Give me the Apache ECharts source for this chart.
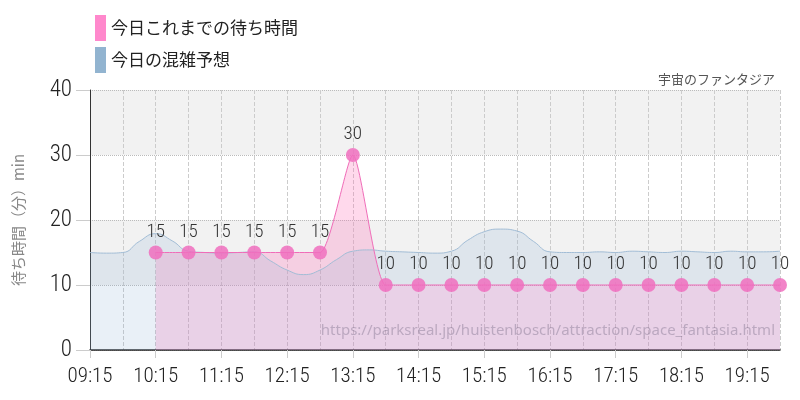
<!DOCTYPE html>
<html>
<head>
<meta charset="utf-8">
<script src="https://cdn.jsdelivr.net/npm/echarts@6/dist/echarts.min.js"></script>
<style>html,body{margin:0;padding:0;background:#fff}#c{width:800px;height:400px}</style>
</head>
<body>
<div id="c"></div>
<script>
// 30-minute categories (labels / pink series)
const categories = ['09:15','09:45','10:15','10:45','11:15','11:45','12:15','12:45','13:15','13:45','14:15','14:45','15:15','15:45','16:15','16:45','17:15','17:45','18:15','18:45','19:15','19:45'];
// today's actual wait (min)
const actualWait = [null,null,15,15,15,15,15,15,30,10,10,10,10,10,10,10,10,10,10,10,10,10];
// 15-minute categories (forecast series)
const forecastTimes = ['09:15','09:30','09:45','10:00','10:15','10:30','10:45','11:00','11:15','11:30','11:45','12:00','12:15','12:30','12:45','13:00','13:15','13:30','13:45','14:00','14:15','14:30','14:45','15:00','15:15','15:30','15:45','16:00','16:15','16:30','16:45','17:00','17:15','17:30','17:45','18:00','18:15','18:30','18:45','19:00','19:15','19:30','19:45'];
const forecast = [15,14.9,15,16.7,17.9,16.8,15.2,15,14.9,15,15.1,13.7,12.3,11.6,12.3,13.9,15.2,15.4,15.2,15.1,15,14.9,15.2,16.9,18.2,18.6,18.3,16.7,15.1,15,15,15.1,15,15.2,15.1,15,15.2,15.1,15,15.2,15.1,15.1,15.2];
const yTicks = [0,10,20,30,40];

const numFont = "'Roboto Condensed','Liberation Sans Narrow','DejaVu Sans Condensed','Roboto',sans-serif";
const jpFont = "'Noto Sans CJK JP','Noto Sans',sans-serif";
const nameActual = '今日これまでの待ち時間';
const nameForecast = '今日の混雑予想';

const chart = echarts.init(document.getElementById('c'));
chart.setOption({
  backgroundColor: '#fff',
  animation: false,
  title: {
    text: '宇宙のファンタジア',
    right: 20, top: 68,
    textStyle: {fontFamily: jpFont, fontSize: 13, fontWeight: 'normal', color: '#555'}
  },
  legend: {
    orient: 'vertical', left: 95, top: 15, itemGap: 6, padding: 0,
    itemWidth: 11, itemHeight: 26,
    textStyle: {fontFamily: jpFont, fontSize: 17, color: '#222'},
    data: [
      {name: nameActual, icon: 'rect', itemStyle: {color: '#ff88cc', opacity: 1}},
      {name: nameForecast, icon: 'rect', itemStyle: {color: '#92b4d0', opacity: 1}}
    ]
  },
  grid: {left: 90, right: 20, top: 90, bottom: 50},
  xAxis: [{
    type: 'category', data: categories, boundaryGap: false,
    axisLine: {lineStyle: {color: '#222', width: 1.5}},
    axisTick: {show: true, interval: 1, length: 8, lineStyle: {color: '#ccc'}},
    axisLabel: {interval: 1, fontFamily: numFont, fontWeight: 300, fontSize: 21, color: '#222', margin: 16},
    splitLine: {show: true, interval: 0, lineStyle: {color: '#ccc', type: 'dashed'}}
  }, {
    type: 'category', data: forecastTimes, boundaryGap: false, show: false
  }],
  yAxis: {
    type: 'value', min: 0, max: 40, interval: 10,
    name: '待ち時間（分）min', nameLocation: 'middle', nameGap: 64, nameRotate: 90,
    nameTextStyle: {fontFamily: jpFont, fontSize: 15, color: '#888'},
    axisLine: {show: true, lineStyle: {color: '#333', width: 1}},
    axisTick: {show: true, length: 14, lineStyle: {color: '#ccc'}},
    axisLabel: {fontFamily: numFont, fontWeight: 300, fontSize: 23, color: '#222', margin: 18,
      formatter: v => yTicks.includes(v) ? String(v) : ''},
    splitLine: {show: true, lineStyle: {color: '#bbb', type: 'dotted'}},
    splitArea: {show: true, areaStyle: {color: ['rgba(255,255,255,0)', '#f2f2f2']}}
  },
  graphic: [{
    type: 'text', right: 25, top: 323, z: 10,
    style: {text: 'https://parksreal.jp/huistenbosch/attraction/space_fantasia.html',
      fontFamily: "'Noto Sans','Open Sans',sans-serif", fontSize: 15, fill: 'rgba(90,80,110,0.32)'}
  }],
  series: [{
    name: nameActual, type: 'line', xAxisIndex: 0, data: actualWait, smooth: 0.2,
    z: 1, symbol: 'none', lineStyle: {width: 0},
    areaStyle: {color: 'rgba(255,105,180,0.36)'}
  }, {
    name: nameForecast, type: 'line', xAxisIndex: 1, data: forecast, smooth: true,
    z: 2, symbol: 'none', lineStyle: {color: '#a2bdd6', width: 1},
    itemStyle: {color: '#92b4d0'},
    areaStyle: {color: 'rgba(140,175,210,0.27)'}
  }, {
    name: nameActual, type: 'line', xAxisIndex: 0, data: actualWait, smooth: 0.2,
    z: 3, symbol: 'circle', symbolSize: 14, showAllSymbol: true,
    lineStyle: {color: '#f06cb8', width: 1},
    itemStyle: {color: 'rgba(240,110,190,0.85)'},
    label: {show: true, position: 'top', distance: 4, fontFamily: numFont, fontWeight: 300, fontSize: 19, color: '#333'}
  }]
});
</script>
</body>
</html>
